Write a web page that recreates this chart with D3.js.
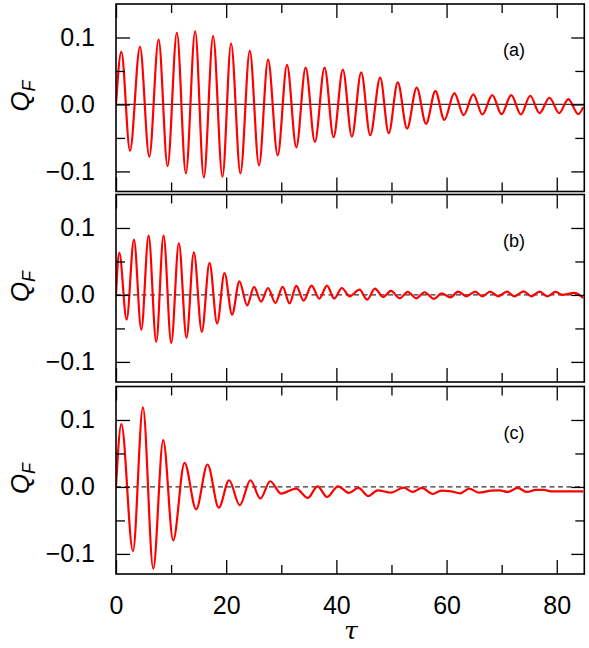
<!DOCTYPE html>
<html>
<head>
<meta charset="utf-8">
<script src="https://cdn.jsdelivr.net/npm/d3@7"></script>
<style>
  body { margin: 0; background: #fff; }
  text { font-family: "Liberation Sans", Arial, sans-serif; }
</style>
</head>
<body>
<script>
'use strict';

// tau / Q_F values (extrema and turning points)
const tauA = [0, 0.97, 2.54, 4.35, 6.04, 7.73, 9.36, 11.05, 12.68, 14.37, 15.94, 17.63, 19.32, 20.89,
  22.59, 24.28, 25.96, 27.6, 29.35, 31.04, 32.73, 34.42, 36.1, 37.86, 39.49, 41.18, 42.81, 44.51,
  46.14, 47.95, 49.5, 51.14, 52.83, 54.58, 56.28, 57.97, 59.6, 61.41, 63.1, 64.86, 66.5, 68.3,
  69.98, 71.74, 73.5, 75.18, 76.87, 78.68, 80.43, 82.1, 83.9, 84.8];
const qA = [0, 0.0785, -0.069, 0.086, -0.078, 0.097, -0.092, 0.107, -0.103, 0.109, -0.109, 0.102, -0.108, 0.091,
  -0.103, 0.080, -0.091, 0.067, -0.076, 0.059, -0.064, 0.055, -0.056, 0.055, -0.049, 0.052, -0.048, 0.048,
  -0.046, 0.040, -0.043, 0.033, -0.036, 0.025, -0.029, 0.020, -0.023, 0.017, -0.016, 0.015, -0.015, 0.014,
  -0.0145, 0.014, -0.015, 0.013, -0.013, 0.010, -0.013, 0.008, -0.0145, -0.004];

const tauB = [0, 0.6, 1.93, 3.26, 4.59, 5.92, 7.3, 8.63, 10.03, 11.41, 12.8, 14.13, 15.58, 16.97, 18.36,
  19.69, 21.07, 22.4, 23.8, 25.06, 26.33, 27.6, 28.93, 30.25, 31.5, 32.73, 34.06, 35.5, 36.9, 38.3,
  39.6, 41.0, 42.4, 44.2, 45.6, 47.0, 48.5, 49.9, 51.5, 52.95, 54.5, 56.0, 57.7, 59.1, 60.7, 62.1,
  63.6, 65.2, 66.5, 67.9, 69.4, 70.96, 72.3, 74.0, 75.4, 76.9, 78.3, 79.8, 81.0, 83.2, 84.8];
const qB = [0, 0.0627, -0.0369, 0.0825, -0.052, 0.0885, -0.070, 0.0885, -0.0716, 0.0776, -0.064, 0.0636, -0.0552, 0.0478, -0.0428,
  0.0328, -0.0294, 0.0203, -0.0155, 0.012, -0.010, 0.0104, -0.012, 0.012, -0.0125, 0.0134, -0.0085, 0.0139, -0.0055, 0.0139,
  -0.0055, 0.0104, -0.002, 0.0079, -0.007, 0.0094, -0.003, 0.006, -0.005, 0.0045, -0.005, 0.004, -0.006, 0.0024, -0.0036, 0.005,
  -0.002, 0.005, -0.002, 0.005, -0.002, 0.005, -0.002, 0.0054, -0.002, 0.005, -0.002, 0.0045, 0.0, 0.003, -0.0045];

const tauC = [0, 0.97, 3.08, 4.89, 6.76, 8.57, 10.38, 12.44, 14.55, 16.61, 18.66, 20.53, 22.46, 24.4, 26.2,
  28.0, 29.95, 32.7, 34.8, 36.6, 38.3, 40.3, 42.3, 44.0, 45.8, 47.5, 49.9, 52.2, 53.9, 55.5, 57.5,
  59.0, 60.8, 62.5, 64.1, 65.9, 68.1, 69.6, 71.1, 72.9, 74.6, 76.2, 77.7, 78.9, 81.3, 84.8];
const qC = [0, 0.0939, -0.0958, 0.1188, -0.122, 0.0699, -0.0798, 0.036, -0.0334, 0.0335, -0.0309, 0.010, -0.0274, 0.010, -0.0174,
  0.0085, -0.0099, -0.0025, -0.0164, 0.001, -0.015, 0.001, -0.009, -0.0015, -0.0135, -0.005, -0.0085, -0.001, -0.0075, -0.0015, -0.0105,
  -0.0055, -0.0065, -0.0095, -0.0025, -0.0085, -0.0055, -0.005, -0.0075, -0.0015, -0.0075, -0.0045, -0.0045, -0.0065, -0.0065, -0.0065];

const panelNames = ['(a)', '(b)', '(c)'];
const panelTau = [tauA, tauB, tauC];
const panelQ = [qA, qB, qC];
const zeroDash = [null, '5,3.5', '5,3.5'];

const xMajor = [0, 20, 40, 60, 80];
const xMinor = [10, 30, 50, 70];
const yMajor = [-0.1, 0, 0.1];
const yMinor = [-0.05, 0.05];

const width = 589, height = 648;
const left = 116, right = 584.3;
const tops = [4, 194.5, 386.5];
const panelH = 187.5;

const svg = d3.select('body').append('svg')
  .attr('width', width)
  .attr('height', height);

const xScale = d3.scaleLinear().domain([0, 85]).range([left, right]);

panelNames.forEach((name, i) => {
  const top = tops[i], bottom = top + panelH;
  const yScale = d3.scaleLinear().domain([-0.13, 0.15]).range([bottom, top]);
  const g = svg.append('g');

  // clip for the curve
  g.append('clipPath').attr('id', 'clip' + i)
    .append('rect')
    .attr('x', left).attr('y', top)
    .attr('width', right - left).attr('height', panelH);

  // zero line
  g.append('line')
    .attr('x1', left).attr('x2', right)
    .attr('y1', yScale(0)).attr('y2', yScale(0))
    .attr('stroke', '#333')
    .attr('stroke-width', 1.3)
    .attr('stroke-dasharray', zeroDash[i]);

  // the curve
  const rows = panelTau[i].map((t, k) => ({ t: t, q: panelQ[i][k] }));
  const line = d3.line()
    .x(d => xScale(d.t))
    .y(d => yScale(d.q))
    .curve(d3.curveMonotoneX);
  g.append('path')
    .datum(rows)
    .attr('clip-path', 'url(#clip' + i + ')')
    .attr('fill', 'none')
    .attr('stroke', '#ff0000')
    .attr('stroke-width', 2.2)
    .attr('d', line);

  // ticks on all four sides, pointing inward
  const addAxis = (axis, tx, ty, labels) => {
    const a = g.append('g')
      .attr('transform', `translate(${tx},${ty})`)
      .call(axis);
    a.select('.domain').remove();
    a.selectAll('line').attr('stroke', '#000').attr('stroke-width', 1.3);
    if (!labels) a.selectAll('text').remove();
    return a;
  };

  addAxis(d3.axisLeft(yScale).tickValues(yMajor).tickSize(-14).tickPadding(21)
    .tickFormat(d3.format('.1f')), left, 0, true)
    .selectAll('text').style('font-size', '25px').attr('fill', '#000');
  addAxis(d3.axisLeft(yScale).tickValues(yMinor).tickSize(-9), left, 0, false);
  addAxis(d3.axisRight(yScale).tickValues(yMajor).tickSize(-13), right, 0, false);
  addAxis(d3.axisRight(yScale).tickValues(yMinor).tickSize(-9), right, 0, false);

  const isLast = i === panelNames.length - 1;
  addAxis(d3.axisBottom(xScale).tickValues(xMajor).tickSize(-14).tickPadding(22)
    .tickFormat(d3.format('d')), 0, bottom, isLast)
    .selectAll('text').style('font-size', '25px').attr('fill', '#000');
  addAxis(d3.axisBottom(xScale).tickValues(xMinor).tickSize(-9), 0, bottom, false);
  addAxis(d3.axisTop(xScale).tickValues(xMajor).tickSize(-14), 0, top, false);
  addAxis(d3.axisTop(xScale).tickValues(xMinor).tickSize(-9), 0, top, false);

  // frame
  g.append('rect')
    .attr('x', left).attr('y', top)
    .attr('width', right - left).attr('height', panelH)
    .attr('fill', 'none')
    .attr('stroke', '#000')
    .attr('stroke-width', 1.6);

  // panel tag
  g.append('text')
    .attr('x', 514).attr('y', top + 52)
    .attr('text-anchor', 'middle')
    .style('font-size', '18px')
    .text(name);

  // y label Q_F
  const yl = g.append('text')
    .attr('transform', `translate(29, ${top + 92}) rotate(-90)`)
    .attr('text-anchor', 'middle')
    .style('font-size', '26px')
    .style('font-style', 'italic');
  yl.append('tspan').text('Q');
  yl.append('tspan').attr('dy', 6).style('font-size', '18px').text('F');
});

// x label
svg.append('text')
  .attr('x', 351).attr('y', 639)
  .attr('text-anchor', 'middle')
  .style('font-family', '"DejaVu Serif", serif')
  .style('font-style', 'italic')
  .style('font-size', '25px')
  .text('τ');
</script>
</body>
</html>
